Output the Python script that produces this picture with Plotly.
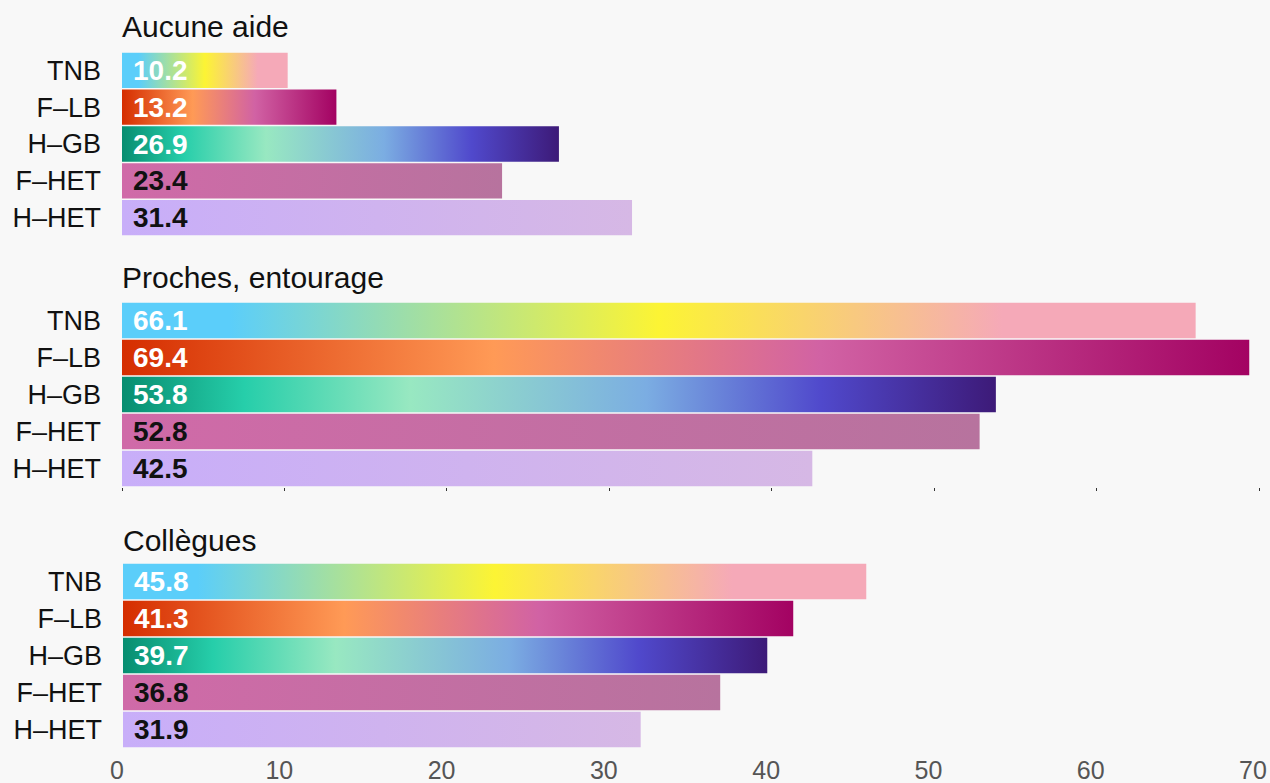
import plotly.graph_objects as go

# ---- data ----
panels = ["Aucune aide", "Proches, entourage", "Collègues"]
groups = ["TNB", "F–LB", "H–GB", "F–HET", "H–HET"]
aucune = [10.2, 13.2, 26.9, 23.4, 31.4]
proches = [66.1, 69.4, 53.8, 52.8, 42.5]
collegues = [45.8, 41.3, 39.7, 36.8, 31.9]
x_ticks = [0, 10, 20, 30, 40, 50, 60, 70]

values = [aucune, proches, collegues]

# ---- styling ----
scales = {
    "TNB": [[0, "#5BCEFA"], [0.1, "#5BCEFA"], [0.5, "#FCF434"], [0.82, "#F5A9B8"], [1, "#F5A9B8"]],
    "F–LB": [[0, "#D52D00"], [0.33, "#FF9A56"], [0.62, "#D162A4"], [1, "#A30262"]],
    "H–GB": [[0, "#078D70"], [0.14, "#26CEAA"], [0.33, "#98E8C1"], [0.6, "#7BADE2"],
             [0.8, "#5049CC"], [1, "#3D1A78"]],
    "F–HET": [[0, "#D06AA8"], [1, "#B7739E"]],
    "H–HET": [[0, "#C8AEF9"], [1, "#D6B8E5"]],
}
text_colors = {"TNB": "white", "F–LB": "white", "H–GB": "white", "F–HET": "#111", "H–HET": "#111"}

W, H = 1270, 783
FONT = "Liberation Sans, Arial, sans-serif"
half = 0.48

# pixel layout (top, bottom) of each panel's bar area
y_pix = [(52, 236), (302, 487), (563, 748)]
title_y = [27, 278, 540]
x_pix = [(122, 1259), (122, 1259), (123, 1259)]

fig = go.Figure()
annotations = []
for p, (name, vals) in enumerate(zip(panels, values)):
    ax = "" if p == 0 else str(p + 1)
    for i, (g, v) in enumerate(zip(groups, vals)):
        fig.add_trace(go.Scatter(
            x=[0, v, v, 0, 0],
            y=[i - half, i - half, i + half, i + half, i - half],
            mode="lines", fill="toself",
            line=dict(width=0, color="rgba(0,0,0,0)"),
            fillgradient=dict(type="horizontal", colorscale=scales[g]),
            xaxis="x" + ax, yaxis="y" + ax,
            hoverinfo="skip", showlegend=False,
        ))
        annotations.append(dict(
            x=0, y=i, xref="x" + ax, yref="y" + ax, text=f"{v:.1f}",
            showarrow=False, xanchor="left", yanchor="middle", xshift=9, yshift=0,
            font=dict(family=FONT, size=28, color=text_colors[g], weight="bold"),
        ))
    annotations.append(dict(
        x=x_pix[p][0] / W, y=1 - title_y[p] / H, xref="paper", yref="paper",
        text=name, showarrow=False, xanchor="left", yanchor="middle", xshift=-2,
        font=dict(family=FONT, size=30, color="#111"),
    ))

layout = dict(
    width=W, height=H,
    margin=dict(l=0, r=0, t=0, b=0, autoexpand=False),
    paper_bgcolor="#F8F8F8", plot_bgcolor="#F8F8F8",
    annotations=annotations,
)
for p in range(3):
    ax = "" if p == 0 else str(p + 1)
    top, bot = y_pix[p]
    x0, x1 = x_pix[p]
    layout["xaxis" + ax] = dict(
        domain=[x0 / W, x1 / W], range=[0, 70], anchor="y" + ax,
        showgrid=False, zeroline=False, showline=False, automargin=False,
        tickvals=x_ticks,
        ticks="outside" if p == 1 else "", ticklen=3, tickwidth=1, tickcolor="#333",
        showticklabels=(p == 2),
        tickfont=dict(family=FONT, size=25, color="#555"),
        ticklabelstandoff=5,
        ticklabelshift=-6 if p == 2 else 0,
        fixedrange=True,
    )
    layout["yaxis" + ax] = dict(
        domain=[1 - bot / H, 1 - top / H], range=[4.5, -0.5], anchor="x" + ax,
        tickvals=list(range(len(groups))), ticktext=groups, automargin=False,
        showgrid=False, zeroline=False, showline=False, ticks="",
        tickfont=dict(family=FONT, size=27, color="#111"),
        ticklabelstandoff=20,
        fixedrange=True,
    )
fig.update_layout(**layout)
fig.write_html(
    "out.html",
    config={"displayModeBar": False},
    post_script="document.body.style.margin='0';document.body.style.overflow='hidden';document.body.style.background='#F8F8F8';",
)
